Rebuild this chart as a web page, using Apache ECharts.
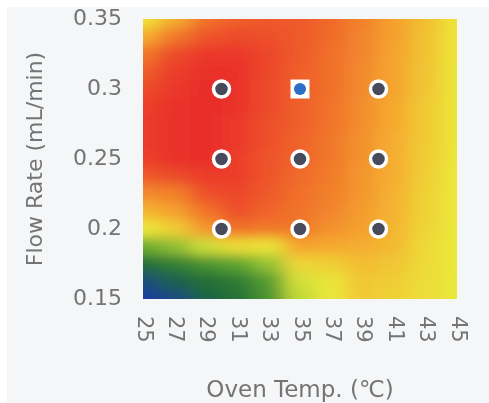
<!DOCTYPE html>
<html><head><meta charset="utf-8">
<script src="https://cdn.jsdelivr.net/npm/echarts@6/dist/echarts.min.js"></script>
<style>
html,body{margin:0;padding:0;background:#ffffff;width:489px;height:403px;overflow:hidden;}
#frame{position:absolute;left:7px;top:7px;width:482px;height:396px;background:#f5f6f7;}
.layer{position:absolute;left:0;top:0;width:489px;height:403px;}
</style></head>
<body>
<svg width="0" height="0" style="position:absolute">
  <filter id="soft" x="-10%" y="-10%" width="120%" height="120%"><feGaussianBlur stdDeviation="10 6"/></filter>
</svg>
<div id="frame"></div>
<div id="heatSharp" class="layer"></div>
<div id="heatBlur" class="layer" style="filter:url(#soft)"></div>
<div id="main" class="layer"></div>
<script>
// ---- data ----
const surfaceTemps = [25, 27, 29, 31, 33, 35, 37, 39, 41, 43, 45];
// flow levels, top (0.35) to bottom (0.15)
const surfaceFlows = [0.35, 0.3375, 0.325, 0.3125, 0.3, 0.2875, 0.275, 0.2625, 0.25,
                      0.2375, 0.225, 0.2125, 0.2, 0.1875, 0.175, 0.1625, 0.15];
// response surface (0 = blue, 100 = red), one row per flow level (top to bottom)
const surface = [
  [58, 72, 85, 89, 90, 90, 87, 82, 75, 68, 58],
  [72, 84, 91, 93, 92, 90, 87, 81, 75, 67, 58],
  [84, 93, 97, 97, 94, 90, 86, 81, 74, 67, 58],
  [89, 96, 98, 98, 94, 89, 86, 80, 74, 66, 58],
  [93, 97, 99, 98, 93, 89, 86, 80, 74, 66, 58],
  [95, 98, 99, 98, 93, 89, 85, 79, 73, 65, 58],
  [96, 98, 99, 97, 92, 89, 85, 79, 73, 65, 58],
  [96, 98, 99, 97, 92, 88, 84, 78, 72, 65, 58],
  [95, 98, 99, 96, 91, 88, 84, 78, 72, 64, 58],
  [90, 93, 96, 96, 91, 87, 83, 77, 72, 64, 57],
  [80, 82, 92, 94, 90, 86, 82, 77, 71, 63, 57],
  [70, 75, 85, 92, 88, 85, 81, 76, 71, 63, 57],
  [57, 64, 77, 86, 84, 84, 78, 75, 70, 62, 57],
  [30, 35, 46, 60, 58, 74, 73, 72, 69, 61, 57],
  [15, 19, 24, 28, 36, 62, 64, 68, 66, 61, 57],
  [5, 11, 15, 18, 26, 48, 58, 66, 64, 60, 56],
  [0, 4, 12, 16, 24, 42, 56, 65, 63, 60, 56]
];
const designTemps = [30, 35, 40];
const designFlows = [0.2, 0.25, 0.3];
const optimum = [35, 0.3];
const xTicks = [25, 27, 29, 31, 33, 35, 37, 39, 41, 43, 45];
const yTicks = [0.15, 0.2, 0.25, 0.3, 0.35];
const colorScale = ['#1c3d9e', '#1e6b36', '#5fa631', '#c5dc3a', '#ebe83a', '#f5b030', '#f1702b', '#e8282a'];

// ---- main chart (axes + points) ----
const FONT = 'DejaVu Sans';
const TXT = '#747474';
const designPts = [];
designTemps.forEach(t => designFlows.forEach(f => {
  if (!(t === optimum[0] && f === optimum[1])) designPts.push([t, f]);
}));

const main = echarts.init(document.getElementById('main'), null, {renderer: 'canvas'});
main.setOption({
  backgroundColor: 'transparent',
  animation: false,
  grid: {left: 143, right: 32, top: 19, bottom: 104, containLabel: false, outerBoundsMode: 'none'},
  xAxis: {
    type: 'value', min: xTicks[0], max: xTicks[xTicks.length - 1], interval: 2,
    axisLine: {show: false}, axisTick: {show: false}, splitLine: {show: false},
    axisLabel: {rotate: -90, margin: 17, color: TXT, fontSize: 21, fontFamily: FONT},
    name: 'Oven Temp. (℃)', nameLocation: 'middle', nameGap: 81,
    nameTextStyle: {color: TXT, fontSize: 23, fontFamily: FONT}
  },
  yAxis: {
    type: 'value', min: yTicks[0], max: yTicks[yTicks.length - 1], interval: 0.05,
    axisLine: {show: false}, axisTick: {show: false}, splitLine: {show: false},
    axisLabel: {margin: 21, color: TXT, fontSize: 22, fontFamily: FONT},
    name: 'Flow Rate (mL/min)', nameLocation: 'middle', nameGap: 96,
    nameTextStyle: {color: TXT, fontSize: 22, fontFamily: FONT}
  },
  series: [
    {type: 'scatter', data: designPts, symbol: 'circle', symbolSize: 16,
     itemStyle: {color: '#474a5a', borderColor: '#ffffff', borderWidth: 3.5, opacity: 1}},
    {type: 'scatter', data: [optimum], symbol: 'rect', symbolSize: [19, 19],
     itemStyle: {color: '#ffffff', opacity: 1}, z: 3},
    {type: 'scatter', data: [optimum], symbol: 'circle', symbolSize: 12,
     itemStyle: {color: '#2b6fc6', opacity: 1}, z: 4}
  ]
});

// ---- surface layers aligned with main plot area ----
const p0 = main.convertToPixel({gridIndex: 0}, [surfaceTemps[0], surfaceFlows[0]]);
const p1 = main.convertToPixel({gridIndex: 0}, [surfaceTemps[surfaceTemps.length - 1], surfaceFlows[surfaceFlows.length - 1]]);
const cw = (p1[0] - p0[0]) / (surfaceTemps.length - 1);
const ch = (p1[1] - p0[1]) / (surfaceFlows.length - 1);
const flowsAsc = surfaceFlows.slice().reverse();
const heatData = [];
surface.forEach((row, r) => {
  const yi = surfaceFlows.length - 1 - r;
  row.forEach((v, c) => heatData.push([c, yi, v]));
});
const heatOption = {
  animation: false,
  grid: {left: p0[0] - cw / 2, top: p0[1] - ch / 2,
         width: (p1[0] - p0[0]) + cw, height: (p1[1] - p0[1]) + ch,
         containLabel: false, outerBoundsMode: 'none'},
  xAxis: {type: 'category', data: surfaceTemps.map(String), show: false},
  yAxis: {type: 'category', data: flowsAsc.map(String), show: false},
  visualMap: {show: false, type: 'continuous', min: 0, max: 100, inRange: {color: colorScale}},
  series: [{type: 'heatmap', data: heatData, itemStyle: {borderWidth: 0}, progressive: 0}]
};
const clip = 'inset(' + p0[1] + 'px ' + (489 - p1[0]) + 'px ' + (403 - p1[1]) + 'px ' + p0[0] + 'px)';
['heatSharp', 'heatBlur'].forEach(id => {
  const el = document.getElementById(id);
  el.style.clipPath = clip;
  const c = echarts.init(el, null, {renderer: 'canvas'});
  c.setOption(heatOption);
});
</script>
</body></html>
